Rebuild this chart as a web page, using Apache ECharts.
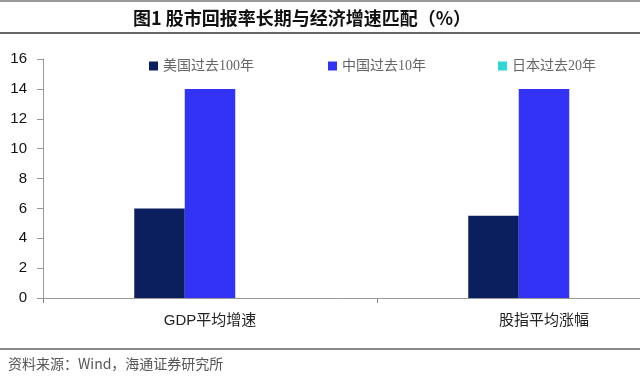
<!DOCTYPE html>
<html><head><meta charset="utf-8">
<script src="https://cdn.jsdelivr.net/npm/echarts@6/dist/echarts.min.js"></script>
<style>html,body{margin:0;padding:0;background:#fff}#c{width:640px;height:381px}</style>
</head><body><div id="c"></div>
<script>
var categories = ['GDP平均增速', '股指平均涨幅'];
var seriesNames = ['美国过去100年', '中国过去10年', '日本过去20年'];
var usValues = [6, 5.5];
var cnValues = [14, 14];
var jpValues = [null, null];
var yTicks = [0, 2, 4, 6, 8, 10, 12, 14, 16];
var colors = ['#0B1F5E', '#3333F5', '#33D6D6'];

var chart = echarts.init(document.getElementById('c'), null, {renderer: 'canvas'});
var cjk = '"Noto Sans CJK SC", "Liberation Sans", sans-serif';
function legendFor(i, left) {
  return {
    data: [seriesNames[i]], left: left, top: 59, padding: 0, itemWidth: 9, itemHeight: 9,
    icon: 'rect', selectedMode: false,
    textStyle: {fontSize: 14, color: '#666', fontFamily: '"Liberation Serif", "Noto Sans CJK SC", serif'}
  };
}
chart.setOption({
  animation: false,
  backgroundColor: '#fff',
  title: {
    text: '图1 股市回报率长期与经济增速匹配（%）', left: 128, top: 4,
    textStyle: {fontSize: 18, fontWeight: 'bold', color: '#111', fontFamily: cjk}
  },
  legend: [legendFor(0, 149), legendFor(1, 328), legendFor(2, 498)],
  grid: {left: 43, right: -71, top: 59, bottom: 83, containLabel: false, outerBoundsMode: 'none'},
  xAxis: {
    type: 'category', data: categories, boundaryGap: true,
    axisLine: {lineStyle: {color: '#999', width: 1}},
    axisTick: {show: true, length: 5, lineStyle: {color: '#888'}},
    axisLabel: {fontSize: 15, color: '#222', margin: 15, fontFamily: '"Liberation Sans", "Noto Sans CJK SC", sans-serif'}
  },
  yAxis: {
    type: 'value', min: yTicks[0], max: yTicks[yTicks.length - 1], interval: 2,
    axisLine: {show: true, lineStyle: {color: '#999'}},
    axisTick: {show: true, length: 6, lineStyle: {color: '#999'}},
    splitLine: {show: false},
    axisLabel: {fontSize: 15, color: '#111', margin: 16, fontFamily: '"Liberation Sans", Arial, sans-serif'}
  },
  series: [
    {name: seriesNames[0], type: 'bar', data: usValues, barWidth: 50.5, barGap: '0%', itemStyle: {color: colors[0]}},
    {name: seriesNames[1], type: 'bar', data: cnValues, barWidth: 50.5, barGap: '0%', itemStyle: {color: colors[1]}},
    {name: seriesNames[2], type: 'bar', data: jpValues, barWidth: 50.5, barGap: '0%', itemStyle: {color: colors[2]}}
  ],
  graphic: [
    {type: 'line', shape: {x1: 0, y1: 1, x2: 640, y2: 1}, style: {stroke: '#999', lineWidth: 2}},
    {type: 'line', shape: {x1: 0, y1: 33, x2: 640, y2: 33}, style: {stroke: '#666', lineWidth: 2}},
    {type: 'line', shape: {x1: 0, y1: 349, x2: 640, y2: 349}, style: {stroke: '#888', lineWidth: 2}},
    {type: 'text', left: 8, top: 357, style: {text: '资料来源：Wind，海通证券研究所', fontSize: 14, fill: '#555', fontFamily: cjk}}
  ]
});
</script></body></html>
